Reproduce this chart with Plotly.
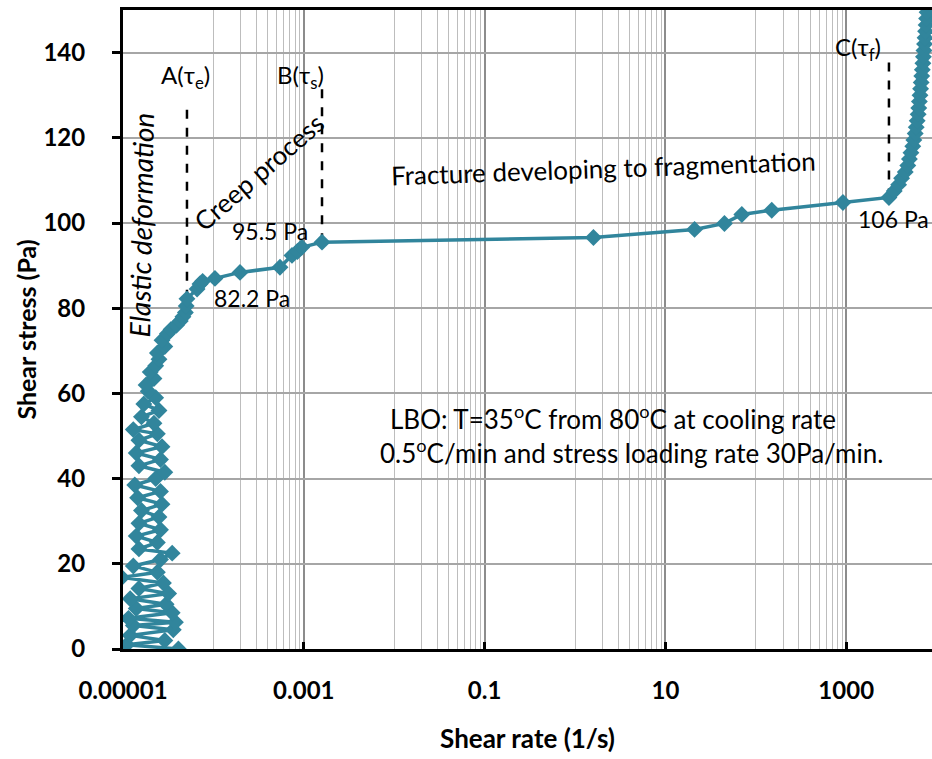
import math
import plotly.graph_objects as go

# Shear stress ramp (Pa) and the resulting shear rate (1/s), in measurement order
shear_stress = [
    0.0, 1.0, 2.0, 3.2, 4.5, 5.5, 6.3, 7.2, 8.5, 9.5, 10.5, 11.8, 13.0, 14.2, 15.5,
    16.8, 18.0, 19.5, 21.0, 22.5, 23.5, 25.0, 26.5, 28.0, 29.5, 31.0, 32.5, 34.0,
    35.5, 37.0, 38.5, 40.0, 41.5, 43.0, 44.5, 46.0, 47.5, 49.0, 50.5, 51.5, 53.0,
    54.5, 56.0, 57.5, 59.0, 60.5, 62.0, 63.5, 65.0, 66.5, 68.0, 69.5, 71.0, 72.5,
    74.0, 75.0, 76.0, 77.0, 78.0, 79.0, 80.5, 82.2, 84.5, 85.7, 86.3, 87.0, 88.4,
    89.6, 92.4, 93.3, 94.3, 95.5, 96.6, 98.5, 99.9, 102.0, 103.0, 104.8, 106.0,
    107.5, 109.0, 110.5, 112.0, 113.5, 115.0, 116.5, 118.0, 119.5, 121.0, 122.5,
    124.0, 125.5, 127.0, 128.5, 130.0, 131.5, 133.0, 134.5, 136.0, 137.5, 139.0,
    140.5, 142.0, 143.5, 145.0, 146.5, 148.0, 149.5,
]
shear_rate = [
    4.1e-5, 1.1e-5, 2.9e-5, 1.2e-5, 3.6e-5, 1.3e-5, 3.8e-5, 1.15e-5, 3.5e-5, 1.4e-5,
    3.0e-5, 1.2e-5, 3.2e-5, 1.5e-5, 2.8e-5, 0.97e-5, 2.4e-5, 1.3e-5, 2.6e-5, 3.5e-5,
    1.5e-5, 2.4e-5, 1.4e-5, 2.6e-5, 1.5e-5, 2.5e-5, 1.6e-5, 2.7e-5, 1.45e-5, 2.6e-5,
    1.35e-5, 2.3e-5, 2.9e-5, 1.5e-5, 2.6e-5, 1.4e-5, 2.7e-5, 1.5e-5, 2.4e-5, 1.3e-5,
    2.2e-5, 1.6e-5, 2.5e-5, 1.7e-5, 2.3e-5, 1.9e-5, 1.8e-5, 2.2e-5, 2.0e-5, 2.3e-5,
    2.5e-5, 2.4e-5, 2.9e-5, 2.7e-5, 3.1e-5, 3.4e-5, 3.9e-5, 4.3e-5, 4.6e-5, 4.9e-5,
    5.0e-5, 5.1e-5, 6.6e-5, 7.1e-5, 7.6e-5, 1.04e-4, 1.97e-4, 5.45e-4, 7.4e-4,
    8.5e-4, 9.5e-4, 1.59e-3, 1.6, 21.0, 45.0, 70.0, 150.0, 920.0, 2970.0,
    3400, 3800, 4100, 4500, 4800, 5000, 5200, 5450, 5600, 5800, 5950, 6100, 6250,
    6350, 6450, 6550, 6650, 6750, 6850, 6950, 7050, 7150, 7250, 7350, 7450, 7550,
    7650, 7750, 7850,
]

# Characteristic points: elastic limit, creep end, fracture onset
marker_names = ["A(τ<sub>e</sub>)", "B(τ<sub>s</sub>)", "C(τ<sub>f</sub>)"]
marker_rate = [5.1e-5, 1.59e-3, 2970.0]
marker_stress = [82.2, 95.5, 106.0]
marker_top = [127.5, 132.0, 138.0]
marker_value_text = ["82.2 Pa", "95.5 Pa", "106 Pa"]

x_tick_vals = [1e-5, 1e-3, 1e-1, 10, 1000]
x_tick_text = ["0.00001", "0.001", "0.1", "10", "1000"]
y_tick_vals = [0, 20, 40, 60, 80, 100, 120, 140]

# grid lines between labelled decades (base-100 style log axis)
x_minor_vals = [k * 10.0 ** d for d in (-4, -2, 0, 2) for k in range(1, 10)]

teal = "#31859C"
FONT = "Lato"

fig = go.Figure()

for i in range(len(marker_rate)):
    fig.add_trace(go.Scatter(
        x=[marker_rate[i], marker_rate[i]], y=[marker_stress[i], marker_top[i]],
        mode="lines", line=dict(color="black", width=2.5, dash="dash"),
        hoverinfo="skip", showlegend=False,
    ))

fig.add_trace(go.Scatter(
    x=shear_rate, y=shear_stress, mode="lines+markers",
    line=dict(color=teal, width=3.5),
    marker=dict(symbol="diamond", size=13, color=teal),
    showlegend=False,
))


def L(v):
    return math.log10(v)


def note(x, y, text, size, angle=0):
    return dict(x=x, y=y, text=text, textangle=angle, xref="x", yref="y",
                showarrow=False, xanchor="center", yanchor="middle",
                font=dict(family=FONT, size=size, color="black"))


annotations = [
    note(L(marker_rate[0]) - 0.02, 134.5, marker_names[0], 24),
    note(L(marker_rate[1]) - 0.24, 134.5, marker_names[1], 24),
    note(L(marker_rate[2]) - 0.34, 141.0, marker_names[2], 24),
    note(L(marker_rate[0]) + 0.72, 82.5, marker_value_text[0], 23),
    note(L(marker_rate[1]) - 0.58, 98.2, marker_value_text[1], 23),
    note(L(marker_rate[2]) + 0.05, 101.0, marker_value_text[2], 23),
    note(-4.80, 99.5, "<i>Elastic deformation</i>", 28, -89),
    note(-3.50, 112.0, "Creep process", 26, -41),
    note(0.31, 112.8, "Fracture developing to fragmentation", 26, -2),
    note(0.42, 54.4, "LBO: T=35<sup>o</sup>C from 80<sup>o</sup>C at cooling rate", 26),
    note(0.63, 46.4, "0.5<sup>o</sup>C/min and stress loading rate 30Pa/min.", 26),
]

fig.update_layout(
    width=932, height=759,
    margin=dict(l=123, r=0, t=10, b=110),
    paper_bgcolor="white", plot_bgcolor="white",
    font=dict(family=FONT, color="black"),
    annotations=annotations,
    xaxis=dict(
        type="log", range=[-5, 3.949],
        tickvals=x_tick_vals, ticktext=x_tick_text,
        tickfont=dict(family=FONT, size=24, color="black", weight="bold"),
        ticks="inside", ticklen=7, tickwidth=3, tickcolor="black",
        ticklabelstandoff=18,
        showgrid=True, gridcolor="#8c8c8c", gridwidth=2,
        minor=dict(tickvals=x_minor_vals, showgrid=True, gridcolor="#bdbdbd",
                   gridwidth=1, ticks=""),
        showline=True, linecolor="black", linewidth=3, mirror=True,
        zeroline=False,
        title=dict(text="<b>Shear rate (1/s)</b>", font=dict(family=FONT, size=26),
                   standoff=28),
    ),
    yaxis=dict(
        range=[0, 150], tickvals=y_tick_vals,
        tickfont=dict(family=FONT, size=24, color="black", weight="bold"),
        ticks="outside", ticklen=8, tickwidth=3, tickcolor="black",
        ticklabelstandoff=22,
        showgrid=True, gridcolor="#a6a6a6", gridwidth=2,
        showline=True, linecolor="black", linewidth=3,
        zeroline=False,
        title=dict(text="<b>Shear stress (Pa)</b>", font=dict(family=FONT, size=25),
                   standoff=0),
    ),
)

fig.write_html("out.html")
